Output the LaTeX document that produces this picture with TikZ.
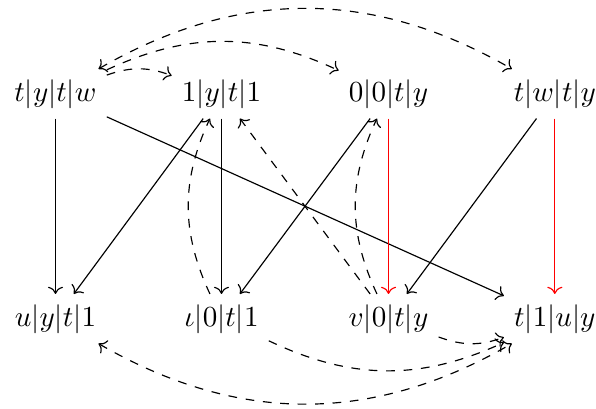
\documentclass[tikz,border=0pt]{standalone}
\usetikzlibrary{arrows.meta}
\begin{document}
\begin{tikzpicture}[x=0.344pt,y=-0.344pt,
  cell/.style={anchor=base, inner sep=0.333em},
  arr/.style={-{Computer Modern Rightarrow}, line width=0.4pt},
  darr/.style={arr, dashed},
  biarr/.style={{Computer Modern Rightarrow}-{Computer Modern Rightarrow}, line width=0.4pt, dashed},
  redarr/.style={arr, draw=red}]
\useasboundingbox (0,0) rectangle (596,408);
% top row
\node[cell] (A) at (55.5,101) {$t|y|t|w$};
\node[cell] (B) at (221.5,101) {$1|y|t|1$};
\node[cell] (C) at (388.5,101) {$0|0|t|y$};
\node[cell] (D) at (554.8,101) {$t|w|t|y$};
% bottom row
\node[cell] (E) at (55.5,326) {$u|y|t|1$};
\node[cell] (F) at (221.5,326) {$\iota|0|t|1$};
\node[cell] (G) at (388.5,326) {$v|0|t|y$};
\node[cell] (H) at (554.8,326) {$t|1|u|y$};
% solid arrows
\draw[arr] (A) -- (E);
\draw[arr] (A) -- (H);
\draw[arr] (B) -- (F);
\draw[arr] (B) -- (E);
\draw[arr] (C) -- (F);
\draw[arr] (D) -- (G);
\draw[redarr] (C) -- (G);
\draw[redarr] (D) -- (H);
% dashed arrows
\draw[darr] (F) to[bend left=25] (B);
\draw[darr] (G) -- (B);
\draw[darr] (G) to[bend left=25] (C);
\draw[biarr] (A) to[bend left=30] (D);
\draw[darr] (A) to[bend left=25] (C);
\draw[darr] (A) to[bend left=20] (B);
\draw[biarr] (E) to[bend right=30] (H);
\draw[darr] (F) to[bend right=25] (H);
\draw[darr] (G) to[bend right=20] (H);
\end{tikzpicture}
\end{document}
